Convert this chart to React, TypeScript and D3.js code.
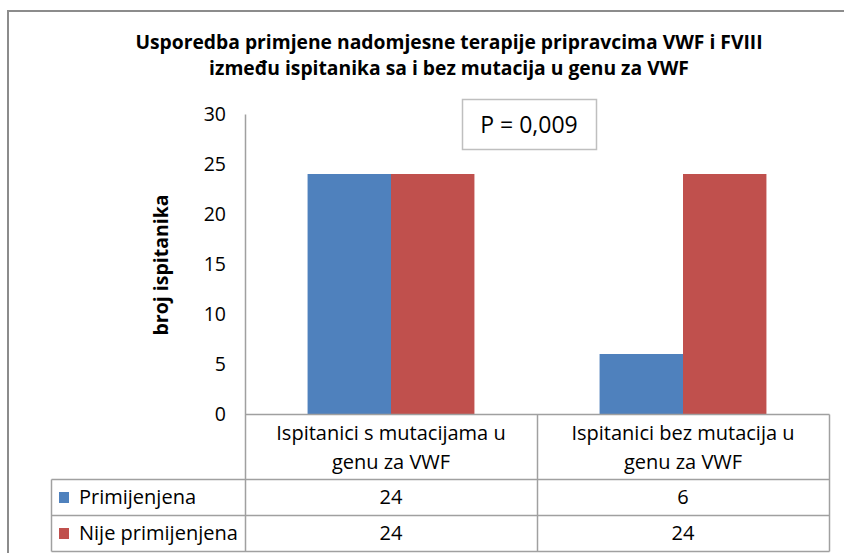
import React, { useEffect, useRef } from "react";
import * as d3 from "d3";

const titleLines = [
  "Usporedba primjene nadomjesne terapije pripravcima VWF i FVIII",
  "između ispitanika sa i bez mutacija u genu za VWF",
];
const categories = ["mut", "bez"];
const categoryLabels = [
  ["Ispitanici s mutacijama u", "genu za VWF"],
  ["Ispitanici bez mutacija u", "genu za VWF"],
];
const seriesNames = ["Primijenjena", "Nije primijenjena"];
const seriesColors = ["#4F81BD", "#C0504D"];
const primijenjena = [24, 6];
const nijePrimijenjena = [24, 24];
const yTicks = [0, 5, 10, 15, 20, 25, 30];
const yTitle = "broj ispitanika";
const pLabel = "P = 0,009";

const FONT = "'Open Sans', Lato, sans-serif";

export default function App() {
  const ref = useRef<SVGSVGElement>(null);

  useEffect(() => {
    const svg = d3.select(ref.current);
    svg.selectAll("*").remove();

    const left = 245, right = 829, top = 114, zero = 414;
    const tableLeft = 51, row1 = 479, row2 = 515, row3 = 551;
    const grid = "#a0a0a0";

    // outer chart border (top and left visible)
    svg.append("path")
      .attr("d", "M8,560 V11 H850")
      .attr("fill", "none")
      .attr("stroke", "#8c8c8c")
      .attr("stroke-width", 2);

    // title
    svg.append("g")
      .selectAll("text")
      .data(titleLines)
      .join("text")
      .attr("x", 449)
      .attr("y", (d, i) => 49 + i * 26)
      .attr("text-anchor", "middle")
      .attr("font-family", FONT)
      .attr("font-weight", "bold")
      .attr("font-size", 19.3)
      .attr("fill", "#000")
      .text(d => d);

    const x0 = d3.scaleBand().domain(categories).range([left, right]);
    const bw = x0.bandwidth();
    const barW = bw / 3.5;
    const x1 = d3.scaleBand()
      .domain(seriesNames)
      .range([(bw - 2 * barW) / 2, (bw + 2 * barW) / 2]);

    const y = d3.scaleLinear().domain([0, 30]).range([zero, top]);

    // y ticks
    svg.append("g")
      .selectAll("text")
      .data(yTicks)
      .join("text")
      .attr("x", 226)
      .attr("y", d => y(d) + 7)
      .attr("text-anchor", "end")
      .attr("font-family", FONT)
      .attr("font-size", 19.5)
      .attr("fill", "#000")
      .text(d => d);

    svg.append("text")
      .attr("transform", `translate(168,${(top + zero) / 2 + 1}) rotate(-90)`)
      .attr("text-anchor", "middle")
      .attr("font-family", FONT)
      .attr("font-weight", "bold")
      .attr("font-size", 19.5)
      .attr("fill", "#000")
      .text(yTitle);

    // bars
    const seriesData = [primijenjena, nijePrimijenjena];
    seriesData.forEach((vals, si) => {
      svg.append("g")
        .selectAll("rect")
        .data(vals)
        .join("rect")
        .attr("x", (d, i) => (x0(categories[i]) ?? 0) + (x1(seriesNames[si]) ?? 0))
        .attr("y", d => y(d))
        .attr("width", x1.bandwidth())
        .attr("height", d => zero - y(d))
        .attr("fill", seriesColors[si]);
    });

    // axis lines + data table
    const lines: [number, number, number, number][] = [
      [left, top, left, row3],
      [left, zero, right, zero],
      [tableLeft, row1, right, row1],
      [tableLeft, row2, right, row2],
      [tableLeft, row3, right, row3],
      [tableLeft, row1, tableLeft, row3],
      [x0(categories[1]) ?? 0, zero, x0(categories[1]) ?? 0, row3],
      [right, zero, right, row3],
    ];
    svg.append("g")
      .selectAll("line")
      .data(lines)
      .join("line")
      .attr("x1", d => d[0] + 0.5)
      .attr("y1", d => d[1] + 0.5)
      .attr("x2", d => d[2] + 0.5)
      .attr("y2", d => d[3] + 0.5)
      .attr("stroke", grid)
      .attr("stroke-width", 1.5);

    // category labels
    categoryLabels.forEach((lbl, ci) => {
      svg.append("g")
        .selectAll("text")
        .data(lbl)
        .join("text")
        .attr("x", (x0(categories[ci]) ?? 0) + bw / 2)
        .attr("y", (d, i) => 440 + i * 29)
        .attr("text-anchor", "middle")
        .attr("font-family", FONT)
        .attr("font-size", 20)
        .attr("fill", "#000")
        .text(d => d);
    });

    // legend rows
    const rowY = [row1, row2];
    seriesNames.forEach((name, si) => {
      const cy = (rowY[si] + (si === 0 ? row2 : row3)) / 2;
      svg.append("rect")
        .attr("x", 59)
        .attr("y", cy - 5)
        .attr("width", 10)
        .attr("height", 11)
        .attr("fill", seriesColors[si]);
      svg.append("text")
        .attr("x", 79)
        .attr("y", cy + 7)
        .attr("font-family", FONT)
        .attr("font-size", 20)
        .attr("fill", "#000")
        .text(name);
      svg.append("g")
        .selectAll("text")
        .data(seriesData[si])
        .join("text")
        .attr("x", (d, i) => (x0(categories[i]) ?? 0) + bw / 2)
        .attr("y", cy + 7)
        .attr("text-anchor", "middle")
        .attr("font-family", FONT)
        .attr("font-size", 20)
        .attr("fill", "#000")
        .text(d => d);
    });

    // p-value box
    svg.append("rect")
      .attr("x", 462.5)
      .attr("y", 99.5)
      .attr("width", 134)
      .attr("height", 50)
      .attr("fill", "#fff")
      .attr("stroke", "#bfbfbf")
      .attr("stroke-width", 1.5);
    svg.append("text")
      .attr("x", 529)
      .attr("y", 133)
      .attr("text-anchor", "middle")
      .attr("font-family", FONT)
      .attr("font-size", 23)
      .attr("fill", "#000")
      .text(pLabel);
  }, []);

  return (
    <svg
      ref={ref}
      width={844}
      height={553}
      style={{ position: "absolute", left: 0, top: 0, background: "#fff" }}
    />
  );
}
